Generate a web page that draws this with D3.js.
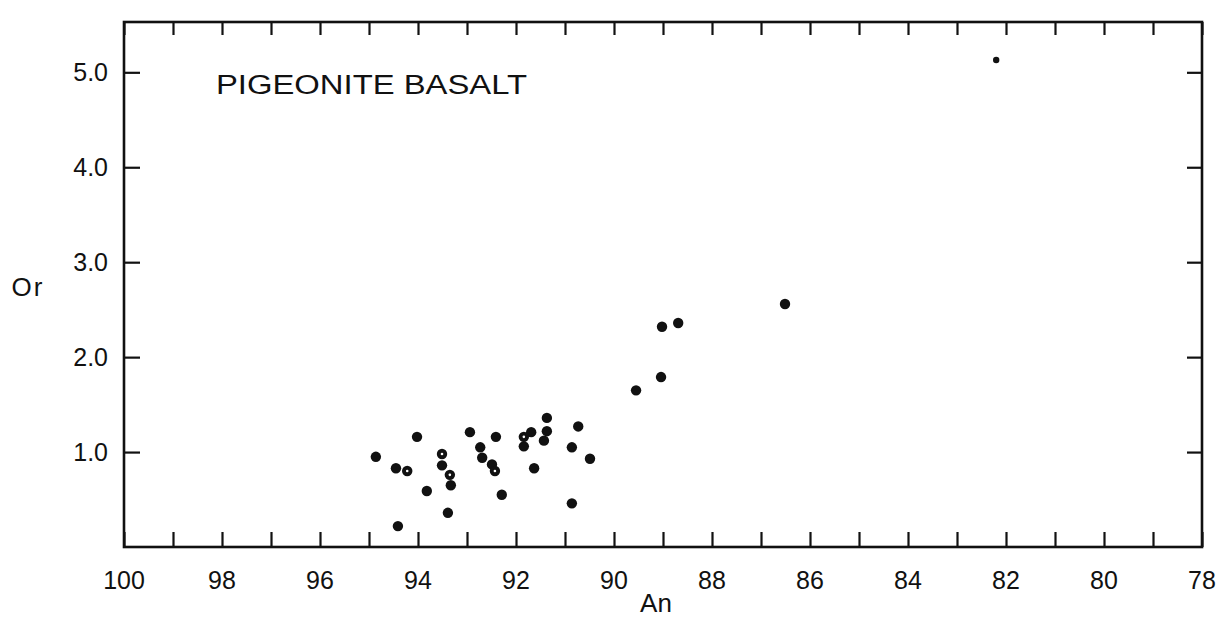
<!DOCTYPE html>
<html>
<head>
<meta charset="utf-8">
<script src="https://cdn.jsdelivr.net/npm/d3@7"></script>
<style>
  html, body { margin: 0; padding: 0; background: #fff; }
  svg { display: block; }
  text { font-family: "Liberation Sans", Arial, sans-serif; fill: #111; }
</style>
</head>
<body>
<svg id="chart" width="1229" height="623"></svg>
<script>
// ---- data ----
const anValues = [94.86, 94.02, 94.45, 94.22, 93.82, 94.41, 93.51, 93.51, 93.35, 93.33, 93.39,
  92.94, 92.41, 92.73, 92.69, 92.49, 92.43, 92.29, 91.37, 91.69, 91.37, 91.84, 91.43, 91.84,
  90.73, 90.86, 90.49, 91.63, 90.86, 86.51, 89.02, 88.69, 89.04, 89.55, 82.20];
const orValues = [0.95, 1.16, 0.83, 0.80, 0.59, 0.22, 0.98, 0.86, 0.76, 0.65, 0.36,
  1.21, 1.16, 1.05, 0.94, 0.87, 0.80, 0.55, 1.36, 1.21, 1.22, 1.16, 1.12, 1.06,
  1.27, 1.05, 0.93, 0.83, 0.46, 2.56, 2.32, 2.36, 1.79, 1.65, 5.13];
const openMarks = [0, 0, 0, 1, 0, 0, 1, 0, 1, 0, 0,
  0, 0, 0, 0, 0, 1, 0, 0, 0, 0, 1, 0, 0,
  0, 0, 0, 0, 0, 0, 0, 0, 0, 0, 0];
const xTickLabels = [100, 98, 96, 94, 92, 90, 88, 86, 84, 82, 80, 78];
const xMinorTicks = d3.range(78, 101, 1);
const yTickLabels = [1.0, 2.0, 3.0, 4.0, 5.0];
const title = "PIGEONITE BASALT";
const xTitle = "An";
const yTitle = "Or";

// ---- layout ----
const svg = d3.select("#chart");
const L = 124, R = 1202, T = 22, B = 547;
const x = d3.scaleLinear().domain([100, 78]).range([L, R]);
const y = d3.scaleLinear().domain([0, 5.53]).range([B, T]);

// ticks (inward) via d3 axes
const bottomAxis = d3.axisBottom(x).tickValues(xMinorTicks).tickSize(-15).tickFormat("");
const topAxis = d3.axisTop(x).tickValues(xMinorTicks).tickSize(-13).tickFormat("");
const leftAxis = d3.axisLeft(y).tickValues(yTickLabels).tickSize(-16).tickFormat("");
const rightAxis = d3.axisRight(y).tickValues(yTickLabels).tickSize(-15).tickFormat("");

function styleAxis(g) {
  g.select(".domain").remove();
  g.selectAll(".tick line").attr("stroke", "#111").attr("stroke-width", 2.2);
}
svg.append("g").attr("transform", `translate(0,${B})`).call(bottomAxis).call(styleAxis);
svg.append("g").attr("transform", `translate(0,${T})`).call(topAxis).call(styleAxis);
svg.append("g").attr("transform", `translate(${L},0)`).call(leftAxis).call(styleAxis);
svg.append("g").attr("transform", `translate(${R},0)`).call(rightAxis).call(styleAxis);

// frame
svg.append("rect").attr("x", L).attr("y", T).attr("width", R - L).attr("height", B - T)
  .attr("fill", "none").attr("stroke", "#111").attr("stroke-width", 2.6);

// tick labels
svg.append("g").selectAll("text").data(xTickLabels).join("text")
  .attr("x", d => x(d)).attr("y", 589)
  .attr("text-anchor", "middle").attr("font-size", 25)
  .text(d => d);
svg.append("g").selectAll("text").data(yTickLabels).join("text")
  .attr("x", 108).attr("y", d => y(d) + 9)
  .attr("text-anchor", "end").attr("font-size", 25)
  .text(d => d.toFixed(1));

// axis titles
svg.append("text").attr("x", 656).attr("y", 612).attr("text-anchor", "middle")
  .attr("font-size", 26).text(xTitle);
svg.append("text").attr("x", 28).attr("y", 296).attr("text-anchor", "middle")
  .attr("font-size", 26).attr("letter-spacing", 2).text(yTitle);

// chart title
svg.append("text").attr("x", 216).attr("y", 94).attr("font-size", 27)
  .attr("textLength", 311).attr("lengthAdjust", "spacingAndGlyphs").text(title);

// points
const pts = anValues.map((a, i) => ({ an: a, or: orValues[i], open: openMarks[i], i }));
svg.append("g").selectAll("circle").data(pts).join("circle")
  .attr("cx", d => x(d.an)).attr("cy", d => y(d.or))
  .attr("r", d => d.an < 84 ? 3.2 : 5.2)
  .attr("fill", "#111");
svg.append("g").selectAll("circle").data(pts.filter(d => d.open)).join("circle")
  .attr("cx", d => x(d.an)).attr("cy", d => y(d.or))
  .attr("r", 1.3).attr("fill", "#fff");
</script>
</body>
</html>
